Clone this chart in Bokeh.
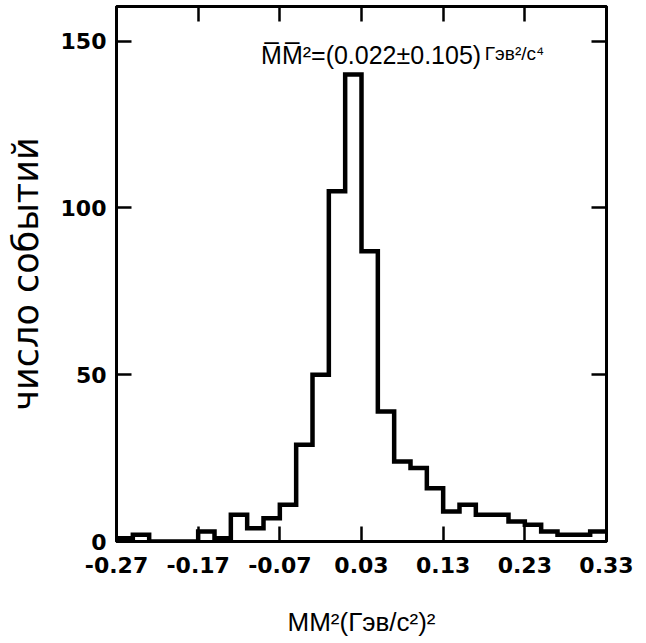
from bokeh.plotting import figure
from bokeh.models import Range1d, FixedTicker, LinearAxis, Label
from bokeh.embed import file_html
from bokeh.resources import INLINE

# bin edges of the histogram (width 0.02)
bin_edges = [-0.27, -0.25, -0.23, -0.21, -0.19, -0.17, -0.15, -0.13, -0.11, -0.09,
             -0.07, -0.05, -0.03, -0.01, 0.01, 0.03, 0.05, 0.07, 0.09, 0.11,
             0.13, 0.15, 0.17, 0.19, 0.21, 0.23, 0.25, 0.27, 0.29, 0.31, 0.33]
# events per bin
counts = [1, 2, 0, 0, 0, 3, 1, 8, 4, 7,
          11, 29, 50, 105, 140, 87, 39, 24, 22, 16,
          9, 11, 8, 8, 6, 5, 3, 2, 2, 3]

x_ticks = [-0.27, -0.17, -0.07, 0.03, 0.13, 0.23, 0.33]
x_tick_labels = ["-0.27", "-0.17", "-0.07", "0.03", "0.13", "0.23", "0.33"]
y_ticks = [0, 50, 100, 150]
y_tick_labels = ["0", "50", "100", "150"]

x_title = "MM²(Гэв/с²)²"
y_title = "число событий"
annot_main = "M\u0305M\u0305²=(0.022±0.105)"
annot_unit = "Гэв²/с⁴"

p = figure(width=646, height=643, output_backend="svg", toolbar_location=None,
           x_range=Range1d(-0.27, 0.33), y_range=Range1d(0, 160.4),
           min_border_left=116, min_border_right=40, min_border_top=6,
           min_border_bottom=102, background_fill_color="white",
           border_fill_color="white")
p.grid.visible = False
p.outline_line_color = "black"
p.outline_line_width = 3

step_y = counts + [counts[-1]]
p.step(x=bin_edges, y=step_y, mode="after", line_color="black", line_width=4.5,
       line_join="miter")

tick_font = "DejaVu Sans"

def style_axis(ax, show_labels, overrides):
    ax.axis_line_color = "black"
    ax.axis_line_width = 3
    ax.major_tick_in = 15
    ax.major_tick_out = 0
    ax.minor_tick_in = 0
    ax.minor_tick_out = 0
    ax.major_tick_line_width = 2.5
    ax.major_tick_line_color = "black"
    ax.major_label_overrides = overrides
    ax.major_label_text_font = tick_font
    ax.major_label_text_font_style = "bold"
    ax.major_label_text_font_size = "22px"
    ax.major_label_text_color = "black"
    if not show_labels:
        ax.major_label_standoff = 0

xo = {t: l for t, l in zip(x_ticks, x_tick_labels)}
yo = {t: l for t, l in zip(y_ticks, y_tick_labels)}

xa = p.xaxis[0]
xa.ticker = FixedTicker(ticks=x_ticks)
style_axis(xa, True, xo)
xa.major_label_standoff = 15
xa.axis_label = x_title
xa.axis_label_text_font = "Liberation Sans"
xa.axis_label_text_font_style = "normal"
xa.axis_label_text_font_size = "26px"
xa.axis_label_text_color = "black"
xa.axis_label_standoff = 31

ya = p.yaxis[0]
ya.ticker = FixedTicker(ticks=y_ticks)
style_axis(ya, True, yo)
ya.major_label_standoff = 10
ya.axis_label = y_title
ya.axis_label_text_font = "DejaVu Sans"
ya.axis_label_text_font_style = "normal"
ya.axis_label_text_font_size = "35px"
ya.axis_label_text_color = "black"
ya.axis_label_standoff = 12

top_ax = LinearAxis(ticker=FixedTicker(ticks=x_ticks))
style_axis(top_ax, False, {t: "" for t in x_ticks})
p.add_layout(top_ax, "above")
right_ax = LinearAxis(ticker=FixedTicker(ticks=y_ticks))
style_axis(right_ax, False, {t: "" for t in y_ticks})
p.add_layout(right_ax, "right")

p.add_layout(Label(x=-0.093, y=145.8, text=annot_main, text_font="Liberation Sans",
                   text_font_size="25px", text_color="black",
                   text_baseline="alphabetic"))
p.add_layout(Label(x=0.181, y=146.2, text=annot_unit, text_font="Liberation Sans",
                   text_font_size="19px", text_color="black",
                   text_baseline="alphabetic"))

open("out.html", "w").write(file_html(p, INLINE))
